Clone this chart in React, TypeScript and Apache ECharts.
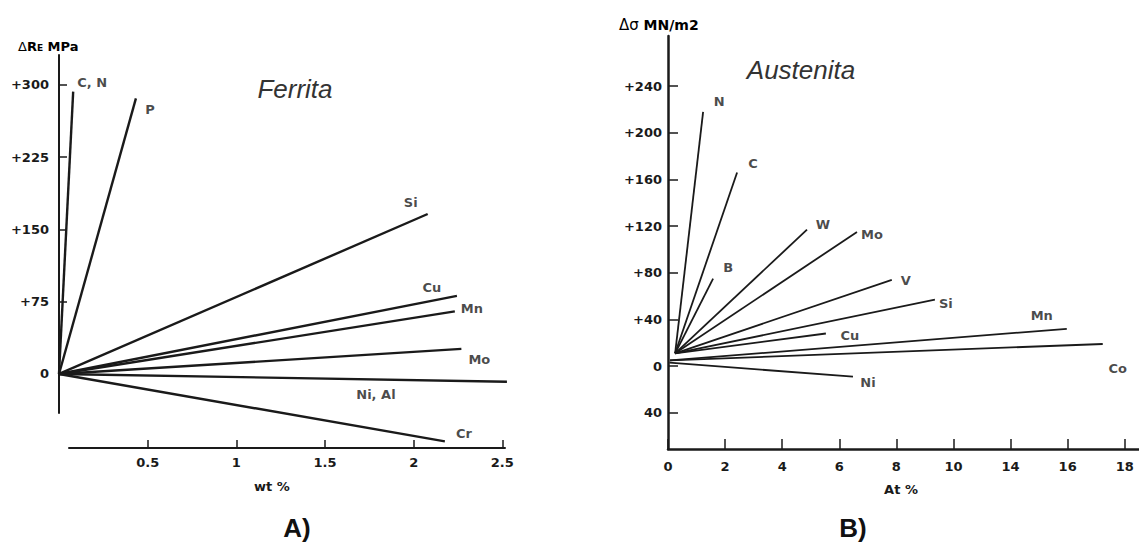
import React, { useEffect, useRef } from "react";
import * as echarts from "echarts";

// ---------- A) Ferrita ----------
const ferritaElements = ["C, N", "P", "Si", "Cu", "Mn", "Mo", "Ni, Al", "Cr"];
const ferritaEndWt = [0.08, 0.434, 2.08, 2.245, 2.233, 2.27, 2.527, 2.177];
const ferritaEndMPa = [293, 286, 166, 81, 65, 26, -8, -70];
const ferritaYTicks = [0, 75, 150, 225, 300];
const ferritaYLabels = ["0", "+75", "+150", "+225", "+300"];
const ferritaXTicks = [0.5, 1, 1.5, 2, 2.5];
const ferritaXLabels = ["0.5", "1", "1.5", "2", "2.5"];

// ---------- B) Austenita ----------
const austenitaElements = ["N", "C", "B", "W", "Mo", "V", "Si", "Cu", "Mn", "Co", "Ni"];
const austenitaStartAt = [0.25, 0.25, 0.25, 0.25, 0.25, 0.25, 0.25, 0.25, 0.07, 0.07, 0.05];
const austenitaStartMN = [11, 11, 11, 11, 11, 11, 11, 11, 5, 5, 3];
const austenitaEndAt = [1.23, 2.42, 1.58, 4.87, 6.62, 7.84, 9.35, 5.53, 13.97, 15.23, 6.48];
const austenitaEndMN = [218, 166, 75, 117, 115, 74, 57, 28, 32, 19, -9];
const austenitaYTicks = [-40, 0, 40, 80, 120, 160, 200, 240];
const austenitaYLabels = ["40", "0", "+40", "+80", "+120", "+160", "+200", "+240"];
const austenitaXTicks = [0, 2, 4, 6, 8, 10, 12, 14, 16];
const austenitaXLabels = ["0", "2", "4", "6", "8", "10", "14", "16", "18"];

// label offsets (styling) relative to the end of each line
const ferritaLabelOffset: number[][] = [
  [19, -9], [14, 11], [-17, -12], [-25, -8], [17, -3], [18, 11], [-131, 13], [19, -8],
];
const austenitaLabelOffset: number[][] = [
  [16, -10], [16, -9], [15, -11], [16, -5], [15, 2], [14, 1], [11, 4], [24, 2], [-25, -13], [15, 24], [15, 6],
];

const INK = "#1a1a1a";
const BOLD_FONT = "'DejaVu Sans', 'Liberation Sans', Arial, sans-serif";
const ITALIC_FONT = "'Liberation Sans', Arial, sans-serif";

export default function App() {
  const ref = useRef<HTMLDivElement>(null);

  useEffect(() => {
    if (!ref.current) return;
    const chart = echarts.init(ref.current, undefined, { renderer: "svg" });

    const labelStyle = {
      show: true,
      position: "inside",
      formatter: "{b}",
      color: INK,
      fontFamily: BOLD_FONT,
      fontWeight: "bold",
      fontSize: 13,
    };

    const series: any[] = [];
    ferritaElements.forEach((name, i) => {
      series.push({
        type: "line",
        name,
        xAxisIndex: 0,
        yAxisIndex: 0,
        clip: false,
        symbol: "none",
        silent: true,
        lineStyle: { color: INK, width: 2.4 },
        data: [
          [0, 0],
          [ferritaEndWt[i], ferritaEndMPa[i]],
        ],
      });
    });
    series.push({
      type: "scatter",
      xAxisIndex: 0,
      yAxisIndex: 0,
      clip: false,
      symbolSize: 1,
      itemStyle: { color: "rgba(0,0,0,0)" },
      label: labelStyle,
      data: ferritaElements.map((name, i) => ({
        name,
        value: [ferritaEndWt[i], ferritaEndMPa[i]],
        label: { offset: ferritaLabelOffset[i] },
      })),
    });

    austenitaElements.forEach((name, i) => {
      series.push({
        type: "line",
        name,
        xAxisIndex: 2,
        yAxisIndex: 2,
        clip: false,
        symbol: "none",
        silent: true,
        lineStyle: { color: INK, width: 1.8 },
        data: [
          [austenitaStartAt[i], austenitaStartMN[i]],
          [austenitaEndAt[i], austenitaEndMN[i]],
        ],
      });
    });
    series.push({
      type: "scatter",
      xAxisIndex: 2,
      yAxisIndex: 2,
      clip: false,
      symbolSize: 1,
      itemStyle: { color: "rgba(0,0,0,0)" },
      label: labelStyle,
      data: austenitaElements.map((name, i) => ({
        name,
        value: [austenitaEndAt[i], austenitaEndMN[i]],
        label: { offset: austenitaLabelOffset[i] },
      })),
    });

    const axisLabelBase = {
      color: INK,
      fontFamily: BOLD_FONT,
      fontWeight: "bold",
      fontSize: 13,
    };

    const option: any = {
      animation: false,
      backgroundColor: "#ffffff",
      grid: [
        { left: 59, top: 55, width: 452, height: 358 },
        { left: 69, top: 440, width: 436, height: 8 },
        { left: 668, top: 36, width: 471, height: 413 },
      ],
      xAxis: [
        { gridIndex: 0, type: "value", min: 0, max: 2.55, show: false },
        {
          gridIndex: 1,
          type: "value",
          min: 0.056,
          max: 2.515,
          axisLine: { show: true, onZero: false, lineStyle: { color: INK, width: 2 } },
          axisTick: { show: true, inside: true, length: 8, lineStyle: { color: INK, width: 1.5 }, customValues: ferritaXTicks },
          axisLabel: {
            ...axisLabelBase,
            margin: 8,
            customValues: ferritaXTicks,
            formatter: (v: number) => ferritaXLabels[ferritaXTicks.indexOf(v)] ?? "",
          },
          splitLine: { show: false },
        },
        {
          gridIndex: 2,
          type: "value",
          min: 0,
          max: 16.5,
          axisLine: { show: true, onZero: false, lineStyle: { color: INK, width: 2.5 } },
          axisTick: { show: true, inside: true, length: 10, lineStyle: { color: INK, width: 1.5 }, customValues: austenitaXTicks },
          axisLabel: {
            ...axisLabelBase,
            margin: 11,
            customValues: austenitaXTicks,
            formatter: (v: number) => austenitaXLabels[austenitaXTicks.indexOf(v)] ?? "",
          },
          splitLine: { show: false },
        },
      ],
      yAxis: [
        {
          gridIndex: 0,
          type: "value",
          min: -40.5,
          max: 331,
          axisLine: { show: true, onZero: false, lineStyle: { color: INK, width: 2 } },
          axisTick: { show: true, inside: true, length: 8, lineStyle: { color: INK, width: 1.5 }, customValues: ferritaYTicks },
          axisLabel: {
            ...axisLabelBase,
            margin: 10,
            customValues: ferritaYTicks,
            formatter: (v: number) => ferritaYLabels[ferritaYTicks.indexOf(v)] ?? "",
          },
          splitLine: { show: false },
        },
        { gridIndex: 1, type: "value", show: false },
        {
          gridIndex: 2,
          type: "value",
          min: -71,
          max: 283,
          axisLine: { show: true, onZero: false, lineStyle: { color: INK, width: 2.5 } },
          axisTick: { show: true, inside: true, length: 10, lineStyle: { color: INK, width: 1.5 }, customValues: austenitaYTicks },
          axisLabel: {
            ...axisLabelBase,
            margin: 6,
            customValues: austenitaYTicks,
            formatter: (v: number) => austenitaYLabels[austenitaYTicks.indexOf(v)] ?? "",
          },
          splitLine: { show: false },
        },
      ],
      graphic: [
        {
          type: "text",
          x: 295,
          y: 89,
          style: {
            text: "Ferrita",
            fill: "#333",
            font: `italic 26px ${ITALIC_FONT}`,
            align: "center",
            verticalAlign: "middle",
          },
        },
        {
          type: "text",
          x: 801,
          y: 70,
          style: {
            text: "Austenita",
            fill: "#333",
            font: `italic 26px ${ITALIC_FONT}`,
            align: "center",
            verticalAlign: "middle",
          },
        },
        {
          type: "text",
          x: 18,
          y: 46,
          style: {
            text: "{d|Δ}{r|R}{s|E}{r| MPa}",
            align: "left",
            verticalAlign: "middle",
            rich: {
              d: { fontFamily: BOLD_FONT, fontSize: 13, color: INK },
              r: { fontFamily: BOLD_FONT, fontSize: 13, fontWeight: "bold", color: INK },
              s: { fontFamily: BOLD_FONT, fontSize: 9, fontWeight: "bold", color: INK, verticalAlign: "bottom" },
            },
          },
        },
        {
          type: "text",
          x: 619,
          y: 25,
          style: {
            text: "{d|Δσ }{r|MN/m2}",
            align: "left",
            verticalAlign: "middle",
            rich: {
              d: { fontFamily: BOLD_FONT, fontSize: 15, color: INK },
              r: { fontFamily: BOLD_FONT, fontSize: 14, fontWeight: "bold", color: INK },
            },
          },
        },
        {
          type: "text",
          x: 272,
          y: 486,
          style: {
            text: "wt %",
            fill: INK,
            font: `bold 13px ${BOLD_FONT}`,
            align: "center",
            verticalAlign: "middle",
          },
        },
        {
          type: "text",
          x: 901,
          y: 489,
          style: {
            text: "At %",
            fill: INK,
            font: `bold 13px ${BOLD_FONT}`,
            align: "center",
            verticalAlign: "middle",
          },
        },
        {
          type: "text",
          x: 297,
          y: 528,
          style: {
            text: "A)",
            fill: "#111",
            font: `bold 26px 'Liberation Sans Narrow', 'Liberation Sans', Arial, sans-serif`,
            align: "center",
            verticalAlign: "middle",
          },
        },
        {
          type: "text",
          x: 853,
          y: 528,
          style: {
            text: "B)",
            fill: "#111",
            font: `bold 26px 'Liberation Sans Narrow', 'Liberation Sans', Arial, sans-serif`,
            align: "center",
            verticalAlign: "middle",
          },
        },
      ],
      series,
    };

    chart.setOption(option);
    return () => chart.dispose();
  }, []);

  return (
    <div
      ref={ref}
      style={{ position: "fixed", left: 0, top: 0, width: 1139, height: 550, background: "#fff" }}
    />
  );
}
